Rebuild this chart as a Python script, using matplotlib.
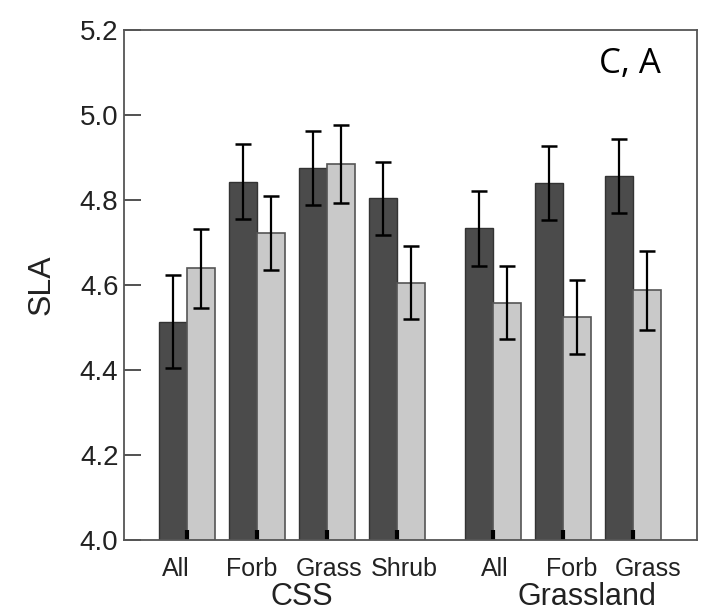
import matplotlib
matplotlib.use("Agg")
import matplotlib.pyplot as plt
import numpy as np

# SLA means and SE, two treatments per habitat/growth form
categories = ["All", "Forb", "Grass", "Shrub", "All", "Forb", "Grass"]
dark_vals = [4.514, 4.843, 4.876, 4.804, 4.733, 4.839, 4.857]
dark_err = [0.110, 0.088, 0.087, 0.086, 0.088, 0.087, 0.087]
light_vals = [4.639, 4.723, 4.885, 4.605, 4.558, 4.524, 4.588]
light_err = [0.093, 0.087, 0.092, 0.086, 0.086, 0.087, 0.093]
habitats = ["CSS", "Grassland"]

# pair centres (gap between habitats) and where the labels sit
pos = np.array([0, 1, 2, 3, 4.37, 5.37, 6.37])
label_pos = [-0.157, 0.93, 2.03, 3.11, 4.39, 5.5, 6.58]
habitat_pos = [1.636, 5.72]

plt.rcParams["font.family"] = ["Liberation Sans", "DejaVu Sans"]

fig = plt.figure(figsize=(7.02, 6.13), dpi=100)
ax = fig.add_axes([0.1766, 0.1191, 0.8163, 0.832])

w = 0.4
ekw = dict(ecolor="black", elinewidth=1.6, capsize=5.5, capthick=1.8)
ax.bar(pos - w / 2, dark_vals, w, color="#4b4b4b", edgecolor="#333333",
       linewidth=1.0, yerr=dark_err, error_kw=ekw, zorder=1)
ax.bar(pos + w / 2, light_vals, w, color="#c9c9c9", edgecolor="#555555",
       linewidth=1.2, yerr=light_err, error_kw=ekw, zorder=1)

ax.set_ylim(4.0, 5.2)
ax.set_xlim(-0.9, 7.286)
yt = np.arange(4.0, 5.21, 0.2)
ax.set_yticks(yt)
ax.set_yticklabels([f"{v:.1f}" for v in yt])
ax.tick_params(axis="y", direction="in", length=12, width=1.2, labelsize=20,
               pad=4, color="#333333", labelcolor="#222222")

# short tick marks at pair centres, labels offset on minor ticks
ax.set_xticks(pos)
ax.set_xticklabels([])
ax.tick_params(axis="x", which="major", direction="in", length=7, width=3,
               color="black")
ax.set_xticks(label_pos, minor=True)
ax.set_xticklabels(categories, minor=True)
ax.tick_params(axis="x", which="minor", length=0, labelsize=18, pad=12,
               labelcolor="#222222")

for hx, name in zip(habitat_pos, habitats):
    ax.text(hx, -0.1275, name, transform=ax.get_xaxis_transform(), ha="center",
            va="baseline", fontsize=22, color="#222222")

ax.set_ylabel("SLA", fontsize=23, labelpad=17, color="#222222")

for s in ax.spines.values():
    s.set_color("#555555")
    s.set_linewidth(1.3)

ax.text(0.883, 0.916, "C, A", transform=ax.transAxes, ha="center",
        va="baseline", fontsize=25, family=["Open Sans", "DejaVu Sans"])

fig.savefig("out.png", dpi=100)
